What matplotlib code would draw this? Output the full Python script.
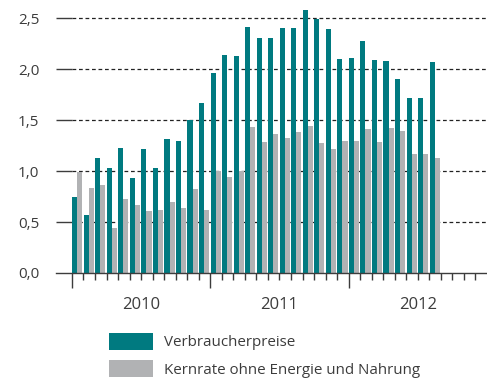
import matplotlib.pyplot as plt
import numpy as np
from matplotlib.patches import Patch

plt.rcParams['font.family'] = ['Open Sans', 'DejaVu Sans']
plt.rcParams['text.color'] = '#3c3c3c'

# Monthly rates, Jan 2010 .. Aug 2012 (per cent y/y)
years = ['2010', '2011', '2012']
cpi = [0.75, 0.57, 1.13, 1.03, 1.23, 0.93, 1.22, 1.03, 1.31, 1.30, 1.50, 1.67,
       1.96, 2.14, 2.13, 2.41, 2.31, 2.31, 2.40, 2.40, 2.58, 2.49, 2.39, 2.10,
       2.11, 2.28, 2.09, 2.08, 1.90, 1.72, 1.72, 2.07]
core = [0.99, 0.83, 0.86, 0.44, 0.73, 0.67, 0.61, 0.62, 0.70, 0.64, 0.82, 0.62,
        1.00, 0.94, 1.00, 1.43, 1.29, 1.36, 1.32, 1.38, 1.44, 1.28, 1.22, 1.30,
        1.30, 1.41, 1.29, 1.42, 1.39, 1.17, 1.17, 1.13]
yticks = [0.0, 0.5, 1.0, 1.5, 2.0, 2.5]

TEAL = '#007a80'
GREY = '#b1b2b4'
INK = '#3c3c3c'

W, H = 487, 383
fig = plt.figure(figsize=(W / 100, H / 100), dpi=100)
x0, x1, yb, yt = 56, 487, 273, 8
ax = fig.add_axes([x0 / W, (H - yb) / H, (x1 - x0) / W, (yb - yt) / H])

n_months = 12 * len(years)
xmin = -16 / 11.55
ax.set_xlim(xmin, n_months)
ax.set_ylim(0, 2.6)

m = np.arange(len(cpi))
bw = 0.44
ax.bar(m + 0.02, cpi, bw, align='edge', color=TEAL, zorder=3, linewidth=0)
ax.bar(m + 0.02 + bw, core, bw, align='edge', color=GREY, zorder=3, linewidth=0)

# solid stub left of the data, dashed grid across the plot
for v in yticks[1:]:
    ax.hlines(v, xmin, 0, color=INK, lw=1.0, zorder=2)
    ax.hlines(v, 0, n_months, color='#222222', lw=0.9, linestyles=(0, (3, 2.2)), zorder=2)

for s in ['top', 'right', 'left']:
    ax.spines[s].set_visible(False)
ax.spines['bottom'].set_color(INK)
ax.spines['bottom'].set_linewidth(1.0)
ax.spines['bottom'].set_zorder(4)

ax.set_yticks(yticks)
ax.set_yticklabels([f'{v:.1f}'.replace('.', ',') for v in yticks], fontsize=11, color=INK)
ax.tick_params(axis='y', length=0, pad=12)

ax.set_xticks(np.arange(0, n_months, 12))
ax.set_xticklabels([])
ax.set_xticks(np.arange(0, n_months), minor=True)
ax.tick_params(axis='x', which='major', length=11, width=1.0, color=INK, direction='out')
ax.tick_params(axis='x', which='minor', length=5, width=1.0, color=INK, direction='out')

for i, yr in enumerate(years):
    ax.text(12 * i + 6, -0.31, yr, ha='center', va='center', fontsize=12, color=INK)

handles = [Patch(facecolor=TEAL, label='Verbraucherpreise'),
           Patch(facecolor=GREY, label='Kernrate ohne Energie und Nahrung')]
fig.legend(handles=handles, loc='upper left', bbox_to_anchor=(106 / W, 1 - 330 / H),
           frameon=False, fontsize=10.9, handlelength=2.9, handleheight=1.32,
           handletextpad=0.72, labelspacing=0.66, borderpad=0.2, borderaxespad=0,
           labelcolor=INK)

fig.savefig('out.png', dpi=100)
